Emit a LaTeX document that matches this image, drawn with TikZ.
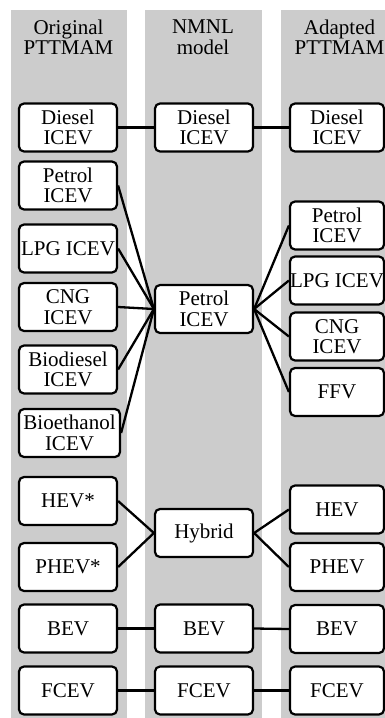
\documentclass[tikz,border=0pt]{standalone}
\usepackage{fontspec}
\setmainfont{Liberation Serif}
\usepackage{xcolor}
\usetikzlibrary{positioning}
\definecolor{bandgray}{RGB}{204,204,204}

\begin{document}
\begin{tikzpicture}[x=1pt, y=-1pt,
  vbox/.style={draw, line width=2.2pt, rounded corners=5pt, fill=white, align=center,
    minimum width=98pt, minimum height=48pt, inner sep=0pt, font=\fontsize{21}{20.5}\selectfont},
  abox/.style={vbox, minimum width=94pt},
  hdr/.style={align=center, inner sep=0pt, font=\fontsize{21}{20.5}\selectfont},
  link/.style={line width=2.3pt}]
\clip (0,0) rectangle (385,718);
\useasboundingbox (0,0) rectangle (385,718);
% columns
\fill[bandgray] (11,10) rectangle (127,718);
\fill[bandgray] (145,10) rectangle (262,718);
\fill[bandgray] (281,10) rectangle (400,718);
\node[hdr] (hOrig) at (68.5,37) {Original\\PTTMAM};
\node[hdr] (hNmnl) at (203,37) {NMNL\\model};
\node[hdr] (hAdap) at (339.5,37) {Adapted\\PTTMAM};
% original PTTMAM
\node[vbox] (oDiesel) at (68,127.5) {Diesel\\ICEV};
\node[vbox] (oPetrol) at (68,185.5) {Petrol\\ICEV};
\node[vbox] (oLPG) at (68,248.5) {LPG ICEV};
\node[vbox] (oCNG) at (68,307) {CNG\\ICEV};
\node[vbox] (oBiodiesel) at (68,369.5) {Biodiesel\\ICEV};
\node[vbox, minimum width=101pt] (oBioethanol) at (69.5,433) {Bioethanol\\ICEV};
\node[vbox] (oHEV) at (68,501) {HEV*};
\node[vbox] (oPHEV) at (68,567) {PHEV*};
\node[vbox] (oBEV) at (68,628.5) {BEV};
\node[vbox] (oFCEV) at (68,690.5) {FCEV};
% NMNL model
\node[vbox] (mDiesel) at (204,127.5) {Diesel\\ICEV};
\node[vbox] (mPetrol) at (204,309) {Petrol\\ICEV};
\node[vbox] (mHybrid) at (204,533) {Hybrid};
\node[vbox] (mBEV) at (204,628.5) {BEV};
\node[vbox] (mFCEV) at (204,690.5) {FCEV};
% adapted PTTMAM
\node[abox] (aDiesel) at (337,127.5) {Diesel\\ICEV};
\node[abox] (aPetrol) at (337,225.5) {Petrol\\ICEV};
\node[abox] (aLPG) at (337,280.5) {LPG ICEV};
\node[abox] (aCNG) at (337,336.5) {CNG\\ICEV};
\node[abox] (aFFV) at (337,392) {FFV};
\node[abox] (aHEV) at (337,509.5) {HEV};
\node[abox] (aPHEV) at (337,567) {PHEV};
\node[abox] (aBEV) at (337,629) {BEV};
\node[abox] (aFCEV) at (337,690.5) {FCEV};
% links
\foreach \o/\m in {Diesel/Diesel, Petrol/Petrol, LPG/Petrol, CNG/Petrol, Biodiesel/Petrol,
  Bioethanol/Petrol, HEV/Hybrid, PHEV/Hybrid, BEV/BEV, FCEV/FCEV}
  \draw[link] (o\o.east) -- (m\m.west);
\foreach \m/\a in {Diesel/Diesel, Petrol/Petrol, Petrol/LPG, Petrol/CNG, Petrol/FFV,
  Hybrid/HEV, Hybrid/PHEV, BEV/BEV, FCEV/FCEV}
  \draw[link] (m\m.east) -- (a\a.west);
\end{tikzpicture}
\end{document}
